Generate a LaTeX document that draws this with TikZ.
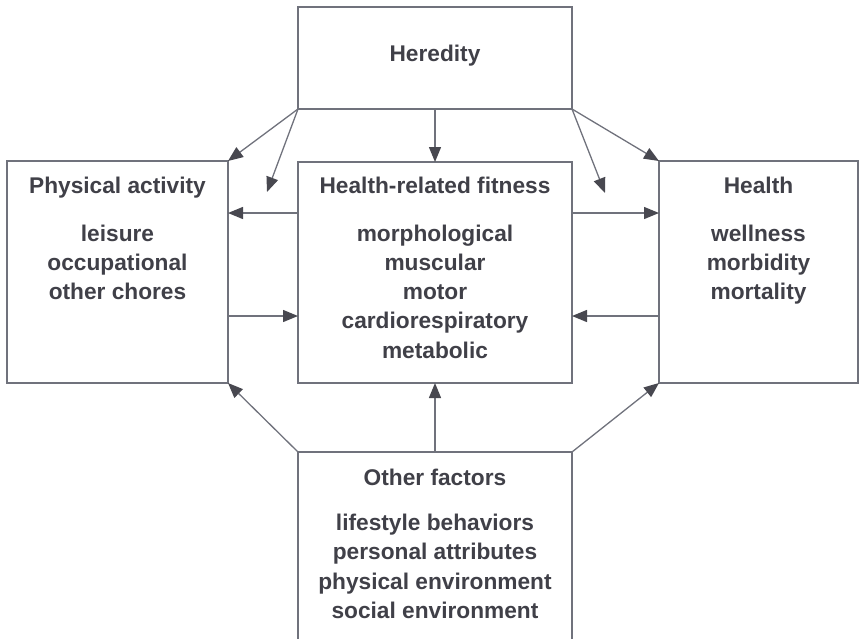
\documentclass[tikz,border=0pt]{standalone}
\usepackage{fontspec}
\setmainfont{Liberation Sans}
\usetikzlibrary{arrows.meta}
\definecolor{linegray}{RGB}{112,114,124}
\definecolor{textgray}{RGB}{64,64,72}
\definecolor{tipgray}{RGB}{72,72,80}
\newcommand{\drawbox}[5]{%
\node[box,minimum width=#4pt,minimum height=#5pt,anchor=north west] (#1) at (#2,#3) {};
}
\begin{document}
\begin{tikzpicture}[x=1pt,y=-1pt]
\tikzset{
  box/.style={draw=linegray,line width=1.3pt,inner sep=0pt,outer sep=0pt},
  title/.style={text=textgray,font=\fontsize{22.7}{29.3}\selectfont\bfseries,inner sep=0pt,anchor=base},
  items/.style={title,align=center},
  flow/.style={draw=linegray,line width=1.3pt,-{Triangle[length=15pt,width=12pt,color=tipgray]}}
}
\useasboundingbox (0,0) rectangle (859,638);
\clip (0,0) rectangle (859,638);

% boxes
\drawbox{her}{298}{7}{274}{102}
\drawbox{pa}{7}{161}{221}{222}
\drawbox{fit}{298}{162}{274}{221}
\drawbox{hlt}{659}{161}{199}{222}
\drawbox{oth}{298}{452}{274}{200}

% texts (lists sit on the baseline of their last line)
\node[title] (hertitle) at (435,61) {Heredity};

\node[title] (patitle) at (117.5,193) {Physical activity};
\node[items] (palist) at (117.5,299.6) {leisure\\occupational\\other chores};

\node[title] (fittitle) at (435,193) {Health-related fitness};
\node[items] (fitlist) at (435,358.2) {morphological\\muscular\\motor\\cardiorespiratory\\metabolic};

\node[title] (hlttitle) at (758.5,193) {Health};
\node[items] (hltlist) at (758.5,299.6) {wellness\\morbidity\\mortality};

\node[title] (othtitle) at (435,485) {Other factors};
\node[items] (othlist) at (435,618.5) {lifestyle behaviors\\personal attributes\\physical environment\\social environment};

% heredity arrows
\coordinate (gapl) at (267,192);
\coordinate (gapr) at (605,193);
\draw[flow] (her.south west) -- (pa.north east);
\draw[flow] (her.south west) -- (gapl);
\draw[flow] (her.south) -- (fit.north);
\draw[flow] (her.south east) -- (gapr);
\draw[flow] (her.south east) -- (hlt.north west);

% fitness <-> activity, health
\coordinate (rowa) at (0,213);
\coordinate (rowb) at (0,316);
\draw[flow] (fit.west |- rowa) -- (pa.east |- rowa);
\draw[flow] (pa.east |- rowb) -- (fit.west |- rowb);
\draw[flow] (fit.east |- rowa) -- (hlt.west |- rowa);
\draw[flow] (hlt.west |- rowb) -- (fit.east |- rowb);

% other factors arrows
\draw[flow] (oth.north west) -- (pa.south east);
\draw[flow] (oth.north) -- (fit.south);
\draw[flow] (oth.north east) -- (hlt.south west);
\end{tikzpicture}
\end{document}
